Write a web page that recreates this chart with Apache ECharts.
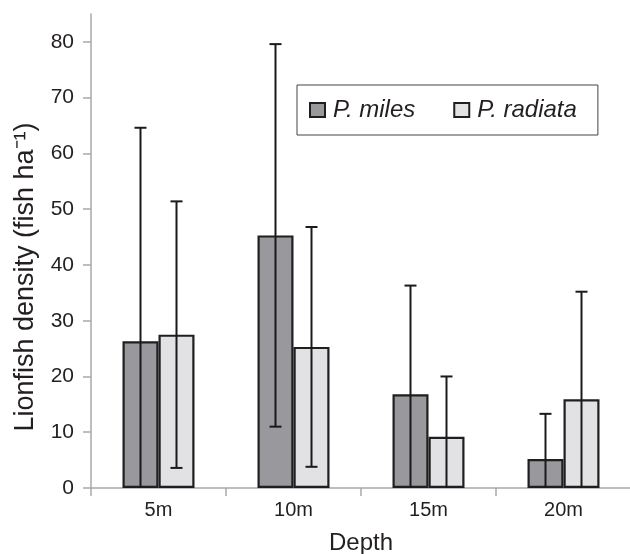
<!DOCTYPE html>
<html lang="en">
<head>
  <meta charset="UTF-8">
  <title>Lionfish density by depth</title>
  <style>
    html, body { margin: 0; padding: 0; background: #fff; }
    #chart { width: 630px; height: 554px; }
  </style>
</head>
<body>
<div id="chart"></div>
<script src="https://cdn.jsdelivr.net/npm/echarts@6/dist/echarts.min.js"></script>
<script>
  // data
  const depths = ['5m', '10m', '15m', '20m'];
  const milesMean = [26.3, 45.3, 16.8, 5.2];
  const milesErr = [38.3, 34.3, 19.5, 8.1];
  const radiataMean = [27.5, 25.3, 9.2, 15.9];
  const radiataErr = [23.9, 21.5, 10.8, 19.3];
  const yTicks = [0, 10, 20, 30, 40, 50, 60, 70, 80];

  const FONT = '"Liberation Sans", Arial, sans-serif';
  const TEXT = '#231f20';
  const AXIS = '#a7a9ac';
  const BAR_W = 36;

  // error bar rows: [category, mean, err, side]  side -1 = left bar, +1 = right bar
  const errRows = [];
  depths.forEach((d, i) => {
    errRows.push([i, milesMean[i], milesErr[i], -1]);
    errRows.push([i, radiataMean[i], radiataErr[i], 1]);
  });

  function renderErr(params, api) {
    const cat = api.value(0);
    const mean = api.value(1);
    const err = api.value(2);
    const side = api.value(3);
    const hi = mean + err;
    const lo = Math.max(0, mean - err);
    const pHi = api.coord([cat, hi]);
    const pLo = api.coord([cat, lo]);
    const x = pHi[0] + side * BAR_W / 2;
    const cap = 6;
    const style = { stroke: '#1a1a1a', lineWidth: 2 };
    const children = [
      { type: 'line', shape: { x1: x, y1: pHi[1], x2: x, y2: pLo[1] }, style },
      { type: 'line', shape: { x1: x - cap, y1: pHi[1], x2: x + cap, y2: pHi[1] }, style }
    ];
    if (mean - err > 0) {
      children.push({ type: 'line', shape: { x1: x - cap, y1: pLo[1], x2: x + cap, y2: pLo[1] }, style });
    }
    return { type: 'group', children };
  }

  const chart = echarts.init(document.getElementById('chart'));

  const option = {
    animation: false,
    textStyle: { fontFamily: FONT, color: TEXT },
    grid: { left: 91, right: -1, top: 14, bottom: 66, outerBoundsMode: 'none' },
    legend: {
      data: ['P. miles', 'P. radiata'],
      left: 297,
      top: 85,
      padding: [13, 21, 13, 12],
      itemGap: 38,
      itemWidth: 15,
      itemHeight: 14,
      icon: 'rect',
      borderColor: '#444',
      borderWidth: 1,
      textStyle: { fontSize: 24, fontStyle: 'italic', color: TEXT, fontFamily: FONT, padding: [0, 0, 0, 3] }
    },
    xAxis: {
      type: 'category',
      data: depths,
      name: 'Depth',
      nameLocation: 'middle',
      nameGap: 43,
      nameTextStyle: { fontSize: 24, color: TEXT },
      axisLine: { lineStyle: { color: AXIS, width: 1.5 } },
      axisTick: { show: true, length: 8, lineStyle: { color: AXIS, width: 1.5 } },
      axisLabel: { fontSize: 20, color: TEXT, margin: 12 }
    },
    yAxis: {
      type: 'value',
      min: 0,
      max: 85,
      interval: 5,
      name: 'Lionfish density (fish ha\u207B\u00B9)',
      nameLocation: 'middle',
      nameGap: 52,
      nameTextStyle: { fontSize: 27, color: TEXT, padding: [0, 52, 0, 0] },
      splitLine: { show: false },
      axisLine: { show: true, lineStyle: { color: AXIS, width: 1.5 } },
      axisTick: { show: true, length: 8, customValues: yTicks, lineStyle: { color: AXIS, width: 1.5 } },
      axisLabel: { fontSize: 21, color: TEXT, margin: 17, customValues: yTicks }
    },
    series: [
      {
        name: 'P. miles',
        type: 'bar',
        data: milesMean,
        barWidth: BAR_W,
        barGap: '0%',
        itemStyle: { color: '#99989d', borderColor: '#1f1f1f', borderWidth: 2.2 }
      },
      {
        name: 'P. radiata',
        type: 'bar',
        data: radiataMean,
        barWidth: BAR_W,
        itemStyle: { color: '#e2e2e4', borderColor: '#1f1f1f', borderWidth: 2.2 }
      },
      {
        name: 'err',
        type: 'custom',
        data: errRows,
        renderItem: renderErr,
        z: 10,
        silent: true
      }
    ]
  };

  chart.setOption(option);
</script>
</body>
</html>
